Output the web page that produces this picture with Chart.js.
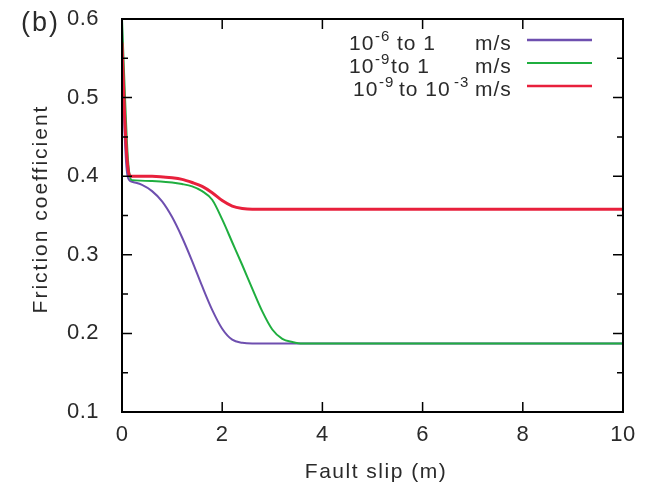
<!DOCTYPE html>
<html>
<head>
<meta charset="utf-8">
<script src="https://cdn.jsdelivr.net/npm/chart.js@4/dist/chart.umd.min.js"></script>
<style>
html,body{margin:0;padding:0;background:#fff;}
#wrap{width:652px;height:486px;position:relative;}
</style>
</head>
<body>
<div id="wrap"><canvas id="c" width="652" height="486"></canvas></div>
<script>
// ---- data ----
const purpleX = [0, 0.03, 0.07, 0.12, 0.2, 0.4, 0.6, 0.8, 1.0, 1.2, 1.4, 1.6, 1.8, 2.0, 2.2, 2.4, 2.6, 3, 4, 6, 8, 10];
const purpleY = [0.59, 0.50, 0.43, 0.398, 0.393, 0.389, 0.381, 0.368, 0.348, 0.322, 0.292, 0.260, 0.230, 0.206, 0.192, 0.188, 0.187, 0.187, 0.187, 0.187, 0.187, 0.187];

const greenX = [0, 0.06, 0.12, 0.2, 0.6, 1.0, 1.2, 1.4, 1.6, 1.8, 2.0, 2.2, 2.4, 2.6, 2.8, 3.0, 3.2, 3.4, 3.6, 4, 6, 8, 10];
const greenY = [0.60, 0.50, 0.42, 0.395, 0.394, 0.392, 0.390, 0.387, 0.381, 0.370, 0.345, 0.316, 0.287, 0.257, 0.228, 0.205, 0.193, 0.189, 0.187, 0.187, 0.187, 0.187, 0.187];

const redX = [0, 0.05, 0.11, 0.18, 0.6, 1.0, 1.2, 1.4, 1.6, 1.8, 2.0, 2.2, 2.4, 2.6, 4, 6, 8, 10];
const redY = [0.57, 0.48, 0.415, 0.40, 0.40, 0.398, 0.396, 0.392, 0.387, 0.379, 0.369, 0.362, 0.359, 0.358, 0.358, 0.358, 0.358, 0.358];

const xTicks = [0, 2, 4, 6, 8, 10];
const yTicks = [0.1, 0.2, 0.3, 0.4, 0.5, 0.6];
const yMinorTicks = [0.15, 0.25, 0.35, 0.45, 0.55];

const seriesColors = ["#6e4faf", "#1fae3f", "#e8203c"];
// legend rows: text pieces, "sup" marks a superscript
const legendRows = [
  [["10", "", 349], ["-6", "sup", 375], ["to 1", "", 397]],
  [["10", "", 349], ["-9", "sup", 375], ["to 1", "", 391]],
  [["10", "", 353], ["-9", "sup", 379], ["to 10", "", 399], ["-3", "sup", 454]]
];
const legendUnit = "m/s";
const panelLabel = "(b)";
const xTitle = "Fault slip (m)";
const yTitle = "Friction coefficient";

const toXY = (xs, ys) => xs.map((x, i) => ({x: x, y: ys[i]}));

const FONT = "'Liberation Sans', Arial, sans-serif";
const TXT = "#2a2a2a";

const spacing = {
  id: 'spacing',
  beforeUpdate(chart) { chart.ctx.letterSpacing = '0.5px'; },
  beforeDraw(chart) { chart.ctx.letterSpacing = '0.5px'; }
};

const decor = {
  id: 'decor',
  afterDraw(chart) {
    const ctx = chart.ctx;
    const a = chart.chartArea;
    const xs = chart.scales.x, ys = chart.scales.y;
    ctx.save();
    // frame
    ctx.strokeStyle = "#000";
    ctx.lineWidth = 2;
    ctx.strokeRect(a.left, a.top, a.right - a.left, a.bottom - a.top);
    // inward ticks
    ctx.lineWidth = 1.5;
    ctx.beginPath();
    xTicks.forEach(v => {
      if (v === xTicks[0] || v === xTicks[xTicks.length-1]) return;
      const p = xs.getPixelForValue(v);
      ctx.moveTo(p, a.bottom); ctx.lineTo(p, a.bottom - 10);
      ctx.moveTo(p, a.top); ctx.lineTo(p, a.top + 10);
    });
    yTicks.forEach(v => {
      const p = ys.getPixelForValue(v);
      ctx.moveTo(a.left, p); ctx.lineTo(a.left + 10, p);
      ctx.moveTo(a.right, p); ctx.lineTo(a.right - 10, p);
    });
    yMinorTicks.forEach(v => {
      const p = ys.getPixelForValue(v);
      ctx.moveTo(a.left, p); ctx.lineTo(a.left + 6, p);
      ctx.moveTo(a.right, p); ctx.lineTo(a.right - 6, p);
    });
    ctx.stroke();

    ctx.fillStyle = TXT;
    ctx.textBaseline = "alphabetic";

    // panel label
    ctx.letterSpacing = "2px";
    ctx.font = "27px " + FONT;
    ctx.textAlign = "left";
    ctx.fillText(panelLabel, 21, 31);

    // axis titles
    ctx.font = "21px " + FONT;
    ctx.letterSpacing = "1.5px";
    ctx.textAlign = "center";
    ctx.fillText(xTitle, 376, 478);
    ctx.save();
    ctx.translate(46.5, 209);
    ctx.rotate(-Math.PI / 2);
    ctx.letterSpacing = "2px";
    ctx.fillText(yTitle, 0, 0);
    ctx.restore();

    // legend
    const rowsBase = [49.5, 72.5, 95.5];
    const linesY = [40, 63, 86];
    const datasets = chart.data.datasets;
    ctx.letterSpacing = "1px";
    legendRows.forEach((row, i) => {
      const b = rowsBase[i];
      ctx.textAlign = "left";
      row.forEach(([t, kind, x]) => {
        if (kind === "sup") {
          ctx.font = "15px " + FONT;
          ctx.fillText(t, x, b - 9);
        } else {
          ctx.font = "21px " + FONT;
          ctx.fillText(t, x, b);
        }
      });
      ctx.font = "21px " + FONT;
      ctx.fillText(legendUnit, 475, b);
      ctx.strokeStyle = datasets[i].borderColor;
      ctx.lineWidth = i === 1 ? 2 : 2.5;
      ctx.beginPath();
      ctx.moveTo(527, linesY[i]); ctx.lineTo(592, linesY[i]);
      ctx.stroke();
    });
    ctx.restore();
  }
};

new Chart(document.getElementById('c'), {
  type: 'scatter',
  data: {
    datasets: [
      {data: toXY(purpleX, purpleY), borderColor: seriesColors[0], borderWidth: 2, showLine: true, pointRadius: 0, cubicInterpolationMode: 'monotone', order: 2},
      {data: toXY(greenX, greenY), borderColor: seriesColors[1], borderWidth: 2, showLine: true, pointRadius: 0, cubicInterpolationMode: 'monotone', order: 1},
      {data: toXY(redX, redY), borderColor: seriesColors[2], borderWidth: 3, showLine: true, pointRadius: 0, cubicInterpolationMode: 'monotone', order: 0}
    ]
  },
  options: {
    responsive: false,
    animation: false,
    events: [],
    layout: {padding: {top: 19, right: 29, left: 0, bottom: 0}},
    plugins: {legend: {display: false}, tooltip: {enabled: false}},
    scales: {
      x: {
        type: 'linear', min: 0, max: 10,
        afterBuildTicks: s => { s.ticks = xTicks.map(v => ({value: v})); },
        afterFit: s => { s.height = 74; },
        grid: {display: false, drawTicks: false},
        border: {display: false},
        ticks: {color: TXT, font: {family: FONT, size: 22}, padding: 10, maxRotation: 0, callback: v => String(v)},
        title: {display: false}
      },
      y: {
        type: 'linear', min: 0.1, max: 0.6,
        afterBuildTicks: s => { s.ticks = yTicks.map(v => ({value: v})); },
        afterFit: s => { s.width = 122; },
        grid: {display: true, drawOnChartArea: false, drawTicks: true, tickLength: 23, color: 'rgba(0,0,0,0)'},
        border: {display: false},
        ticks: {color: TXT, font: {family: FONT, size: 22}, padding: 0, callback: v => v.toFixed(1)},
        title: {display: false}
      }
    }
  },
  plugins: [spacing, decor]
});
</script>
</body>
</html>
